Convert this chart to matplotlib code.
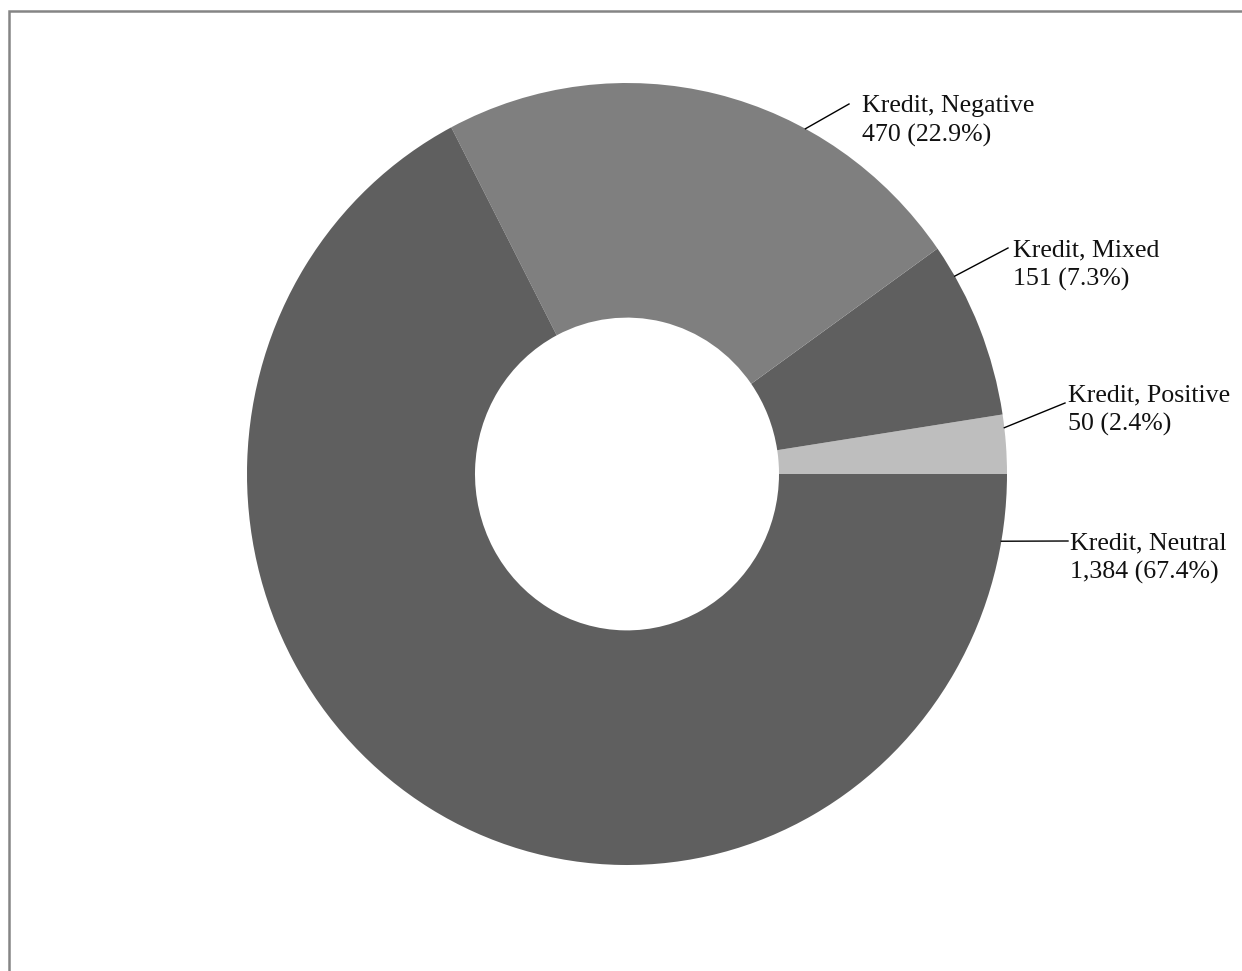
import matplotlib
matplotlib.use("Agg")
import matplotlib.pyplot as plt
import numpy as np
from matplotlib.patches import Rectangle

# data (counterclockwise from 3 o'clock)
categories = ["Kredit, Positive", "Kredit, Mixed", "Kredit, Negative", "Kredit, Neutral"]
counts = [50, 151, 470, 1384]
percents = [2.4, 7.3, 22.9, 67.4]
colors = ["#bebebe", "#5f5f5f", "#7f7f7f", "#5f5f5f"]

# where the leader leaves the ring (deg), where it ends and where the label sits
# (pixels of the 1242x971 image)
leader_angles = [6.8, 30.4, 62.0, -9.9]
leader_end_px = [(1065, 403), (1008, 248), (849, 104), (1068, 541)]
text_px = [(1068, 393), (1013, 248), (862, 104), (1070, 541)]

W, H = 1242, 971
CX, CY, RX, RY = 627, 474, 380, 391

plt.rcParams["font.family"] = ["Liberation Serif", "DejaVu Serif"]

fig = plt.figure(figsize=(W / 100, H / 100), dpi=100)
ax = fig.add_axes([0, 0, 1, 1])

wedges, _ = ax.pie(counts, colors=colors, startangle=0, counterclock=True,
                   radius=1.0, wedgeprops=dict(width=0.6, linewidth=0))

ax.set_aspect("auto")
ax.set_xlim(-CX / RX, (W - CX) / RX)
ax.set_ylim((CY - H) / RY, CY / RY)
ax.axis("off")


def to_data(px, py):
    return (px - CX) / RX, (CY - py) / RY


fs = 18.6
for cat, n, p, ang, (lx, ly), (qx, qy) in zip(categories, counts, percents,
                                              leader_angles, leader_end_px, text_px):
    a = np.deg2rad(ang)
    sx, sy = np.cos(a), np.sin(a)
    ex, ey = to_data(lx, ly)
    ax.plot([sx, ex], [sy, ey], color="black", lw=1.0)
    tx, b1 = to_data(qx, qy + 8)
    _, b2 = to_data(qx, qy + 38)
    ax.text(tx, b1, cat, fontsize=fs, ha="left", va="baseline", color="#111111")
    ax.text(tx, b2, f"{n:,} ({p}%)", fontsize=fs, ha="left", va="baseline", color="#111111")

# thin gray frame at the top and left edges
fig.patches.append(Rectangle((8.5 / W, -0.1), 1.2, 1.1 - 11.5 / H, transform=fig.transFigure,
                             fill=False, edgecolor="#858585", linewidth=1.8))

fig.savefig("out.png", dpi=100, facecolor="white")
